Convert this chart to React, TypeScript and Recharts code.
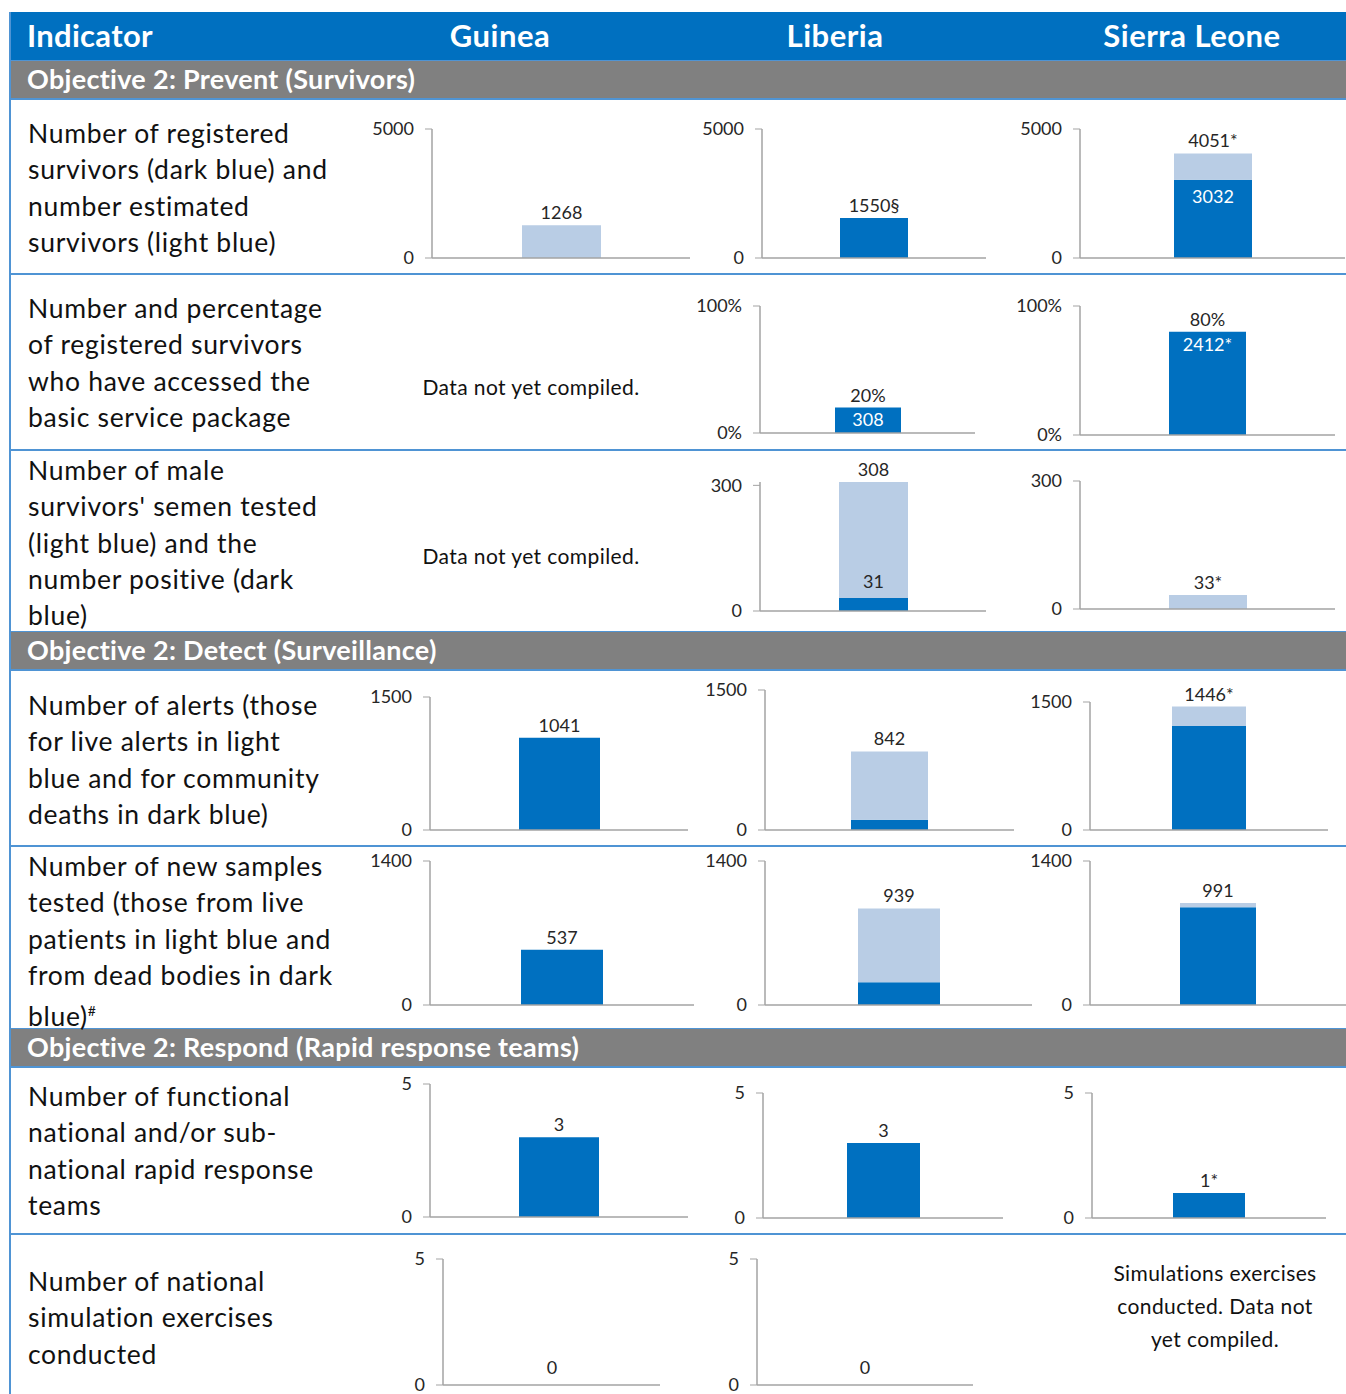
import React from 'react'
import { Bar, BarChart, LabelList, XAxis, YAxis } from 'recharts'

const countries = ['Guinea', 'Liberia', 'Sierra Leone']

const sections = [
  'Objective 2: Prevent (Survivors)',
  'Objective 2: Detect (Surveillance)',
  'Objective 2: Respond (Rapid response teams)',
]

const indicatorLines: string[][] = [
  ['Number of registered', 'survivors (dark blue) and', 'number estimated', 'survivors (light blue)'],
  ['Number and percentage', 'of registered survivors', 'who have accessed the', 'basic service package'],
  ['Number of male', "survivors' semen tested", '(light blue) and the', 'number positive (dark', 'blue)'],
  ['Number of alerts (those', 'for live alerts in light', 'blue and for community', 'deaths in dark blue)'],
  ['Number of new samples', 'tested (those from live', 'patients in light blue and', 'from dead bodies in dark', 'blue)#'],
  ['Number of functional', 'national and/or sub-', 'national rapid response', 'teams'],
  ['Number of national', 'simulation exercises', 'conducted'],
]

// axis maximum per indicator row
const axisMax = [5000, 100, 300, 1500, 1400, 5, 5]

// dark blue part / total bar height, per row and country (null = no chart)
const darkValues: (number | null)[][] = [
  [0, 1550, 3032],
  [null, 20, 80],
  [null, 31, 0],
  [1041, 110, 1220],
  [537, 220, 950],
  [3, 3, 1],
  [0, 0, null],
]
const totalValues: (number | null)[][] = [
  [1268, 1550, 4051],
  [null, 20, 80],
  [null, 308, 33],
  [1041, 842, 1446],
  [537, 939, 991],
  [3, 3, 1],
  [0, 0, null],
]
const topLabels: string[][] = [
  ['1268', '1550§', '4051*'],
  ['', '20%', '80%'],
  ['', '308', '33*'],
  ['1041', '842', '1446*'],
  ['537', '939', '991'],
  ['3', '3', '1*'],
  ['0', '0', ''],
]
const innerLabels: string[][] = [
  ['', '', '3032'],
  ['', '308', '2412*'],
  ['', '31', ''],
  ['', '', ''],
  ['', '', ''],
  ['', '', ''],
  ['', '', ''],
]

const notCompiled: Record<string, string[]> = {
  '1-0': ['Data not yet compiled.'],
  '2-0': ['Data not yet compiled.'],
  '6-2': ['Simulations exercises', 'conducted. Data not', 'yet compiled.'],
}

// layout: y axis x, plot top, plot bottom, x axis end, bar width
type Box = { ax: number; top: number; bottom: number; right: number; bw: number }
const boxes: (Box | null)[][] = [
  [
    { ax: 432, top: 129, bottom: 259, right: 690, bw: 79 },
    { ax: 762, top: 129, bottom: 259, right: 986, bw: 68 },
    { ax: 1080, top: 129, bottom: 259, right: 1345, bw: 78 },
  ],
  [null, { ax: 760, top: 306, bottom: 434, right: 975, bw: 66 }, { ax: 1080, top: 306, bottom: 436, right: 1335, bw: 77 }],
  [null, { ax: 760, top: 482, bottom: 612, right: 986, bw: 69 }, { ax: 1080, top: 481, bottom: 610, right: 1335, bw: 78 }],
  [
    { ax: 430, top: 697, bottom: 831, right: 688, bw: 81 },
    { ax: 765, top: 690, bottom: 831, right: 1014, bw: 77 },
    { ax: 1090, top: 702, bottom: 831, right: 1328, bw: 74 },
  ],
  [
    { ax: 430, top: 861, bottom: 1006, right: 694, bw: 82 },
    { ax: 765, top: 861, bottom: 1006, right: 1032, bw: 82 },
    { ax: 1090, top: 861, bottom: 1006, right: 1346, bw: 76 },
  ],
  [
    { ax: 430, top: 1084, bottom: 1218, right: 688, bw: 80 },
    { ax: 763, top: 1093, bottom: 1219, right: 1003, bw: 73 },
    { ax: 1092, top: 1093, bottom: 1219, right: 1326, bw: 72 },
  ],
  [{ ax: 443, top: 1259, bottom: 1386, right: 660, bw: 78 }, { ax: 757, top: 1259, bottom: 1386, right: 973, bw: 78 }, null],
]

const rowFirstLine = [133, 308, 470, 705, 866, 1096, 1281]
const rowLinesY = [273, 449, 845, 1233]
const sectionTops = [61, 632, 1029]
const notCompiledY: Record<string, number> = { '1-0': 386, '2-0': 555, '6-2': 1272 }
const colCenters = [500, 835, 1192]

const DARK = '#0070C0'
const LIGHT = '#B9CDE5'
const AXIS = '#A3A3A3'
const FONT = 'Lato, "Open Sans", sans-serif'

function MiniBar({ row, col }: { row: number; col: number }) {
  const box = boxes[row][col] as Box
  const dark = darkValues[row][col] as number
  const total = totalValues[row][col] as number
  const max = axisMax[row]
  const pct = row === 1
  const YW = 80
  const MT = 28
  const MB = 14
  const left = box.ax - YW
  const width = box.right - left
  const height = box.bottom - box.top + MT + MB
  const data = [
    {
      name: countries[col],
      dark,
      light: total - dark,
      cap: 0,
      topLabel: topLabels[row][col],
      innerLabel: innerLabels[row][col],
    },
  ]
  const innerOnTop = row === 2
  return (
    <div style={{ position: 'absolute', left, top: box.top - MT }}>
      <BarChart width={width} height={height} data={data} margin={{ top: MT, right: 0, left: 0, bottom: MB }}>
        <XAxis dataKey="name" tick={false} tickLine={false} axisLine={{ stroke: AXIS, strokeWidth: 1.5 }} height={1} />
        <YAxis
          width={YW}
          domain={[0, max]}
          ticks={[0, max]}
          interval={0}
          tickSize={7}
          tickMargin={11}
          tickLine={{ stroke: AXIS }}
          axisLine={{ stroke: AXIS, strokeWidth: 1.5 }}
          tick={{ fontSize: 18, fill: '#262626', fontFamily: FONT }}
          tickFormatter={(v) => (pct ? `${v}%` : `${v}`)}
        />
        <Bar dataKey="dark" stackId="s" fill={DARK} barSize={box.bw} isAnimationActive={false}>
          {innerOnTop ? (
            <LabelList dataKey="innerLabel" position="top" offset={10} fill="#262626" fontSize={18} fontFamily={FONT} />
          ) : (
            <LabelList dataKey="innerLabel" position="insideTop" offset={pct ? 6 : 10} fill="#FFFFFF" fontSize={18} fontFamily={FONT} />
          )}
        </Bar>
        <Bar dataKey="light" stackId="s" fill={LIGHT} barSize={box.bw} isAnimationActive={false} />
        {/* invisible cap carries the total label on top of the stack */}
        <Bar dataKey="cap" stackId="s" fill="transparent" minPointSize={1} barSize={box.bw} isAnimationActive={false}>
          <LabelList
            dataKey="topLabel"
            position="top"
            offset={total === 0 ? 10 : 5}
            fill="#262626"
            fontSize={18}
            fontFamily={FONT}
          />
        </Bar>
      </BarChart>
    </div>
  )
}

export default function App() {
  const abs = (s: React.CSSProperties): React.CSSProperties => ({ position: 'absolute', ...s })
  return (
    <div style={abs({ left: 0, top: 0, width: 1346, height: 1394, background: '#fff', overflow: 'hidden', fontFamily: FONT })}>
      {/* header */}
      <div style={abs({ left: 10, top: 12, width: 1336, height: 49, background: DARK })} />
      <div style={abs({ left: 27, top: 16, color: '#fff', fontSize: 31, fontWeight: 700, letterSpacing: 0.3 })}>Indicator</div>
      {countries.map((c, i) => (
        <div
          key={c}
          style={abs({ left: colCenters[i] - 150, width: 300, top: 16, textAlign: 'center', color: '#fff', fontSize: 31, fontWeight: 700, letterSpacing: 0.5 })}
        >
          {c}
        </div>
      ))}

      {/* section bands */}
      {sections.map((s, i) => (
        <React.Fragment key={s}>
          <div style={abs({ left: 10, top: sectionTops[i] - 1, width: 1336, height: 2, background: '#4F94D4' })} />
          <div style={abs({ left: 10, top: sectionTops[i], width: 1336, height: 37, background: '#808080' })} />
          <div style={abs({ left: 10, top: sectionTops[i] + 37, width: 1336, height: 2, background: '#4F94D4' })} />
          <div style={abs({ left: 27, top: sectionTops[i] + 1, color: '#fff', fontSize: 27, fontWeight: 700, letterSpacing: 0.3 })}>{s}</div>
        </React.Fragment>
      ))}

      {rowLinesY.map((y) => (
        <div key={y} style={abs({ left: 10, top: y, width: 1336, height: 2, background: '#4F94D4' })} />
      ))}
      <div style={abs({ left: 9, top: 12, width: 2, height: 1382, background: '#4F94D4' })} />

      {/* indicator text */}
      {indicatorLines.map((lines, r) => (
        <div
          key={r}
          style={abs({ left: 28, top: rowFirstLine[r] - 18, fontSize: 26.5, letterSpacing: 0.7, lineHeight: '36.3px', color: '#111', whiteSpace: 'nowrap' })}
        >
          {lines.map((l, k) => (
            <div key={k}>
              {l.endsWith('#') ? (
                <>
                  {l.slice(0, -1)}
                  <sup style={{ fontSize: 14 }}>#</sup>
                </>
              ) : (
                l
              )}
            </div>
          ))}
        </div>
      ))}

      {/* not compiled notes */}
      {Object.keys(notCompiled).map((k) => {
        const col = Number(k.split('-')[1])
        const cx = col === 0 ? 531 : 1215
        return (
          <div
            key={k}
            style={abs({ left: cx - 150, width: 300, top: notCompiledY[k] - 16, textAlign: 'center', fontSize: 21, letterSpacing: 0.4, lineHeight: '33px', color: '#111' })}
          >
            {notCompiled[k].map((l, n) => (
              <div key={n}>{l}</div>
            ))}
          </div>
        )
      })}

      {/* charts */}
      {boxes.map((row, r) => row.map((b, c) => (b ? <MiniBar key={`${r}-${c}`} row={r} col={c} /> : null)))}
    </div>
  )
}
